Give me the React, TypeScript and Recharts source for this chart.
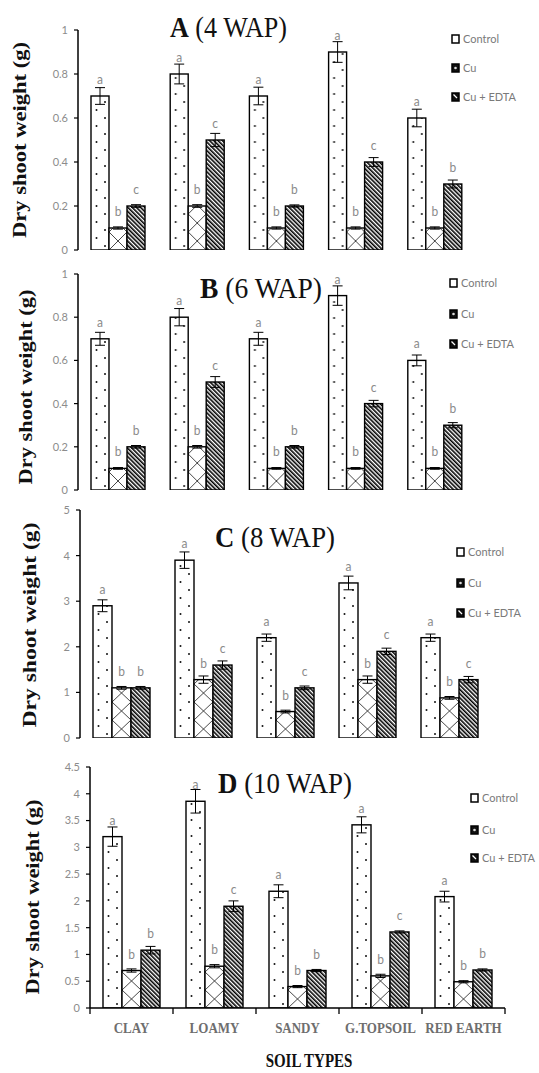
import React from 'react';
import { BarChart, Bar, XAxis, YAxis, ErrorBar, LabelList } from 'recharts';

const soils = ['CLAY', 'LOAMY', 'SANDY', 'G.TOPSOIL', 'RED EARTH'];
const series = ['Control', 'Cu', 'Cu + EDTA'];

// A (4 WAP)
const controlA = [0.7, 0.8, 0.7, 0.9, 0.6];
const controlErrA = [0.038, 0.045, 0.04, 0.047, 0.04];
const controlSigA = ['a', 'a', 'a', 'a', 'a'];
const cuA = [0.1, 0.2, 0.1, 0.1, 0.1];
const cuErrA = [0.005, 0.006, 0.005, 0.005, 0.005];
const cuSigA = ['b', 'b', 'b', 'b', 'b'];
const edtaA = [0.2, 0.5, 0.2, 0.4, 0.3];
const edtaErrA = [0.006, 0.03, 0.005, 0.02, 0.018];
const edtaSigA = ['c', 'c', 'b', 'c', 'b'];

// B (6 WAP)
const controlB = [0.7, 0.8, 0.7, 0.9, 0.6];
const controlErrB = [0.03, 0.04, 0.03, 0.045, 0.025];
const controlSigB = ['a', 'a', 'a', 'a', 'a'];
const cuB = [0.1, 0.2, 0.1, 0.1, 0.1];
const cuErrB = [0.004, 0.006, 0.004, 0.004, 0.004];
const cuSigB = ['b', 'b', 'b', 'b', 'b'];
const edtaB = [0.2, 0.5, 0.2, 0.4, 0.3];
const edtaErrB = [0.006, 0.025, 0.006, 0.015, 0.012];
const edtaSigB = ['b', 'c', 'b', 'c', 'b'];

// C (8 WAP)
const controlC = [2.9, 3.9, 2.2, 3.4, 2.2];
const controlErrC = [0.13, 0.18, 0.08, 0.15, 0.08];
const controlSigC = ['a', 'a', 'a', 'a', 'a'];
const cuC = [1.1, 1.28, 0.58, 1.28, 0.88];
const cuErrC = [0.03, 0.08, 0.03, 0.08, 0.03];
const cuSigC = ['b', 'b', 'b', 'b', 'b'];
const edtaC = [1.1, 1.6, 1.1, 1.9, 1.28];
const edtaErrC = [0.03, 0.09, 0.04, 0.07, 0.07];
const edtaSigC = ['b', 'c', 'c', 'c', 'c'];

// D (10 WAP)
const controlD = [3.2, 3.86, 2.18, 3.42, 2.08];
const controlErrD = [0.18, 0.22, 0.12, 0.15, 0.1];
const controlSigD = ['a', 'a', 'a', 'a', 'a'];
const cuD = [0.7, 0.78, 0.4, 0.6, 0.49];
const cuErrD = [0.03, 0.03, 0.02, 0.03, 0.02];
const cuSigD = ['b', 'b', 'b', 'b', 'b'];
const edtaD = [1.08, 1.9, 0.7, 1.42, 0.71];
const edtaErrD = [0.07, 0.1, 0.02, 0.02, 0.02];
const edtaSigD = ['b', 'c', 'b', 'c', 'b'];

const SERIF = "'Liberation Serif', 'Times New Roman', serif";
const SANS = "Lato, 'Open Sans', sans-serif";

function buildRows(
  ctrl: number[], ctrlErr: number[], ctrlSig: string[],
  cu: number[], cuErr: number[], cuSig: string[],
  edta: number[], edtaErr: number[], edtaSig: string[]
) {
  return soils.map((soil, i) => ({
    soil,
    control: ctrl[i], controlErr: ctrlErr[i], controlSig: ctrlSig[i],
    cu: cu[i], cuErr: cuErr[i], cuSig: cuSig[i],
    edta: edta[i], edtaErr: edtaErr[i], edtaSig: edtaSig[i],
  }));
}

const panels = [
  {
    key: 'A', letter: 'A', wap: ' (4 WAP)', rows: buildRows(controlA, controlErrA, controlSigA, cuA, cuErrA, cuSigA, edtaA, edtaErrA, edtaSigA),
    max: 1, ticks: [0, 0.2, 0.4, 0.6, 0.8, 1],
    top: 0, height: 258, mTop: 30, mBottom: 8, right: 65, yWidth: 78, barSize: 18,
    titleX: 170, titleY: 37, titleSize: 24, titleLen: 117,
    labelX: 26, labelY: 140, labelLen: 196,
    legX: 452, legRows: [39, 68, 97],
  },
  {
    key: 'B', letter: 'B', wap: ' (6 WAP)', rows: buildRows(controlB, controlErrB, controlSigB, cuB, cuErrB, cuSigB, edtaB, edtaErrB, edtaSigB),
    max: 1, ticks: [0, 0.2, 0.4, 0.6, 0.8, 1],
    top: 258, height: 240, mTop: 16, mBottom: 8, right: 65, yWidth: 78, barSize: 18,
    titleX: 200, titleY: 40, titleSize: 24, titleLen: 122,
    labelX: 32, labelY: 129, labelLen: 195,
    legX: 450, legRows: [25, 56, 86],
  },
  {
    key: 'C', letter: 'C', wap: ' (8 WAP)', rows: buildRows(controlC, controlErrC, controlSigC, cuC, cuErrC, cuSigC, edtaC, edtaErrC, edtaSigC),
    max: 5, ticks: [0, 1, 2, 3, 4, 5],
    top: 498, height: 248, mTop: 12, mBottom: 8, right: 49, yWidth: 80, barSize: 19,
    titleX: 215, titleY: 49, titleSize: 24, titleLen: 120,
    labelX: 36, labelY: 127, labelLen: 205,
    legX: 457, legRows: [54, 85, 115],
  },
  {
    key: 'D', letter: 'D', wap: ' (10 WAP)', rows: buildRows(controlD, controlErrD, controlSigD, cuD, cuErrD, cuSigD, edtaD, edtaErrD, edtaSigD),
    max: 4.5, ticks: [0, 0.5, 1, 1.5, 2, 2.5, 3, 3.5, 4, 4.5],
    top: 746, height: 327, mTop: 21, mBottom: 0, right: 34, yWidth: 90, barSize: 19, xHeight: 65,
    titleX: 218, titleY: 47, titleSize: 25, titleLen: 134,
    labelX: 39, labelY: 151, labelLen: 195,
    legX: 471, legRows: [52, 84, 112],
  },
];

function PatternBar(props: any) {
  const { x, y, width, height, kind, uid } = props;
  if (!height || height <= 0) return null;
  const id = `pat-${uid}`;
  const bottom = y + height;
  let pattern: React.ReactNode = null;
  if (kind === 'dots') {
    pattern = (
      <pattern id={id} patternUnits="userSpaceOnUse" x={x} y={bottom} width={18} height={16}>
        <rect width={18} height={16} fill="#fff" />
        <circle cx={5.5} cy={4} r={1} fill="#111" />
        <circle cx={14} cy={12} r={1} fill="#111" />
      </pattern>
    );
  } else if (kind === 'cross') {
    pattern = (
      <pattern id={id} patternUnits="userSpaceOnUse" x={x} y={bottom} width={width} height={18}>
        <rect width={width} height={18} fill="#fff" />
        <line x1={0} y1={0} x2={width} y2={18} stroke="#333" strokeWidth={0.9} />
        <line x1={width} y1={0} x2={0} y2={18} stroke="#333" strokeWidth={0.9} />
      </pattern>
    );
  } else {
    pattern = (
      <pattern id={id} patternUnits="userSpaceOnUse" width={3} height={10} patternTransform="rotate(-45)">
        <rect width={3} height={10} fill="#fff" />
        <rect width={1.6} height={10} fill="#000" />
      </pattern>
    );
  }
  return (
    <g>
      <defs>{pattern}</defs>
      <rect x={x} y={y} width={width} height={height} fill={`url(#${id})`} stroke="#000" strokeWidth={1.4} />
    </g>
  );
}

function SigLabel(props: any) {
  const vb = props.viewBox || props;
  const x = Number(vb.x ?? props.x);
  const y = Number(vb.y ?? props.y);
  const w = Number(vb.width ?? props.width);
  return (
    <text
      transform={`translate(${x + w / 2},${y - 12}) scale(1,1.15)`}
      textAnchor="middle" fontSize={12} fill="#8a8a8a" fontFamily={SANS}
    >
      {props.value}
    </text>
  );
}

function LegendIcon({ kind, x, y }: { kind: string; x: number; y: number }) {
  return (
    <g>
      <rect x={x} y={y - 4} width={7} height={8} fill={kind === 'dots' ? '#fff' : '#111'} stroke="#000" strokeWidth={1.5} />
      {kind === 'cross' && <circle cx={x + 3.5} cy={y} r={1.3} fill="#ddd" />}
      {kind === 'stripes' && <line x1={x + 1.5} y1={y - 2.5} x2={x + 5} y2={y + 1} stroke="#fff" strokeWidth={1.2} />}
    </g>
  );
}

const kinds = ['dots', 'cross', 'stripes'];

function Panel({ cfg }: { cfg: any }) {
  const showX = cfg.key === 'D';
  const plotW = 539 - cfg.yWidth - cfg.right;
  const band = plotW / soils.length;
  const axisY = cfg.height - cfg.mBottom - (cfg.xHeight || 0);

  const SoilTick = (p: any) => {
    const { x, payload, index } = p;
    return (
      <g>
        <line x1={x + band / 2} y1={axisY} x2={x + band / 2} y2={axisY + 6} stroke="#000" strokeWidth={1.3} />
        {index === 0 && <line x1={x - band / 2} y1={axisY} x2={x - band / 2} y2={axisY + 6} stroke="#000" strokeWidth={1.3} />}
        <text
          transform={`translate(${x},${axisY + 25}) scale(1,1.2)`}
          textAnchor="middle" fontSize={13} fontWeight="bold" fill="#6e6e6e" fontFamily={SERIF}
        >
          {payload.value}
        </text>
      </g>
    );
  };

  const bars = [
    { dataKey: 'control', err: 'controlErr', sig: 'controlSig' },
    { dataKey: 'cu', err: 'cuErr', sig: 'cuSig' },
    { dataKey: 'edta', err: 'edtaErr', sig: 'edtaSig' },
  ];

  return (
    <div style={{ position: 'absolute', left: 0, top: cfg.top }}>
      <BarChart
        width={539}
        height={cfg.height}
        data={cfg.rows}
        margin={{ top: cfg.mTop, right: cfg.right, bottom: cfg.mBottom, left: 0 }}
        barGap={0}
      >
        <XAxis
          dataKey="soil"
          hide={!showX}
          height={cfg.xHeight || 0}
          axisLine={{ stroke: '#000', strokeWidth: 1.5 }}
          tickLine={false}
          tick={SoilTick}
          interval={0}
        />
        <YAxis
          width={cfg.yWidth}
          domain={[0, cfg.max]}
          ticks={cfg.ticks}
          interval={0}
          allowDataOverflow
          tickSize={4}
          tickMargin={6}
          axisLine={{ stroke: '#000', strokeWidth: 1.5 }}
          tickLine={{ stroke: '#000', strokeWidth: 1.2 }}
          tick={{ fill: '#8c8c8c', fontSize: 11, fontFamily: SANS }}
        />
        {bars.map((b, k) => (
          <Bar
            key={b.dataKey}
            dataKey={b.dataKey}
            barSize={cfg.barSize}
            isAnimationActive={false}
            shape={(p: any) => <PatternBar {...p} kind={kinds[k]} uid={`${cfg.key}${k}-${p.index}`} />}
          >
            <ErrorBar dataKey={b.err} width={5} stroke="#000" strokeWidth={1} />
            <LabelList dataKey={b.sig} content={SigLabel} />
          </Bar>
        ))}
        <text
          transform={`translate(${cfg.titleX},${cfg.titleY}) scale(1,1.2)`}
          fontSize={cfg.titleSize} fontFamily={SERIF} fill="#111"
          textLength={cfg.titleLen} lengthAdjust="spacingAndGlyphs"
        >
          <tspan fontWeight="bold">{cfg.letter}</tspan>
          <tspan>{cfg.wap}</tspan>
        </text>
        <text
          transform={`translate(${cfg.labelX},${cfg.labelY}) rotate(-90)`}
          textAnchor="middle" fontSize={18} fontWeight="bold" fontFamily={SERIF} fill="#111"
          textLength={cfg.labelLen} lengthAdjust="spacingAndGlyphs"
        >
          Dry shoot weight (g)
        </text>
        {series.map((s, k) => (
          <g key={s}>
            <LegendIcon kind={kinds[k]} x={cfg.legX} y={cfg.legRows[k]} />
            <text x={cfg.legX + 11} y={cfg.legRows[k] + 4} fontSize={11} fill="#7a7a7a" fontFamily={SANS}>
              {s}
            </text>
          </g>
        ))}
        {showX && (
          <text
            transform={`translate(309,${cfg.height - 6}) scale(1,1.2)`}
            textAnchor="middle" fontSize={15} fontWeight="bold" fontFamily={SERIF} fill="#111"
          >
            SOIL TYPES
          </text>
        )}
      </BarChart>
    </div>
  );
}

export default function App() {
  return (
    <div style={{ position: 'absolute', left: 0, top: 0, width: 539, height: 1073, background: '#fff' }}>
      {panels.map((cfg) => (
        <Panel key={cfg.key} cfg={cfg} />
      ))}
    </div>
  );
}
